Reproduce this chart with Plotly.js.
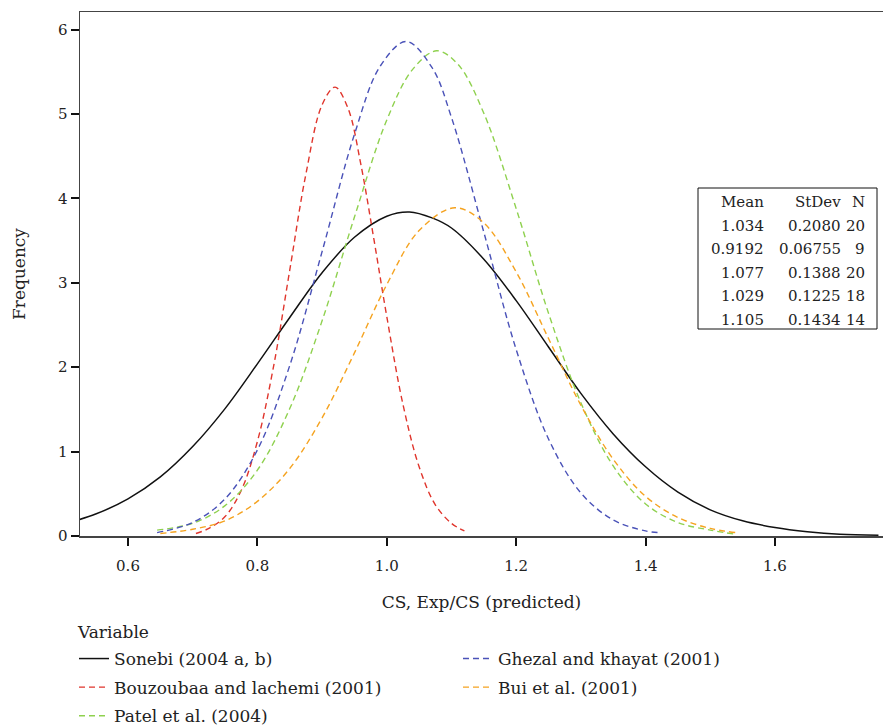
<!DOCTYPE html>
<html>
<head>
<meta charset="utf-8">
<script src="https://cdn.plot.ly/plotly-3.0.1.min.js"></script>
<style>html,body{margin:0;padding:0;background:#fff;overflow:hidden;} #chart{width:883px;height:750px;}</style>
</head>
<body>
<div id="chart"></div>
<script>
// Series names
const seriesNames = ["Sonebi (2004 a, b)", "Bouzoubaa and lachemi (2001)", "Patel et al. (2004)", "Ghezal and khayat (2001)", "Bui et al. (2001)"];
const legendTitle = "Variable";

// Sonebi (2004 a, b)
const sonebiX = [0.50,0.55,0.60,0.65,0.70,0.75,0.80,0.85,0.90,0.95,1.00,1.035,1.07,1.10,1.15,1.20,1.25,1.30,1.35,1.40,1.45,1.50,1.55,1.60,1.65,1.70,1.76];
const sonebiY = [0.14,0.26,0.44,0.70,1.06,1.51,2.04,2.59,3.12,3.54,3.79,3.84,3.77,3.65,3.28,2.79,2.24,1.69,1.21,0.82,0.52,0.31,0.18,0.10,0.05,0.02,0.01];

// Bouzoubaa and lachemi (2001)
const bouzX = [0.705,0.725,0.75,0.775,0.80,0.825,0.85,0.875,0.90,0.92,0.94,0.96,0.98,1.00,1.025,1.05,1.075,1.10,1.12];
const bouzY = [0.03,0.09,0.23,0.54,1.12,2.01,3.15,4.29,5.11,5.32,5.07,4.40,3.52,2.60,1.56,0.82,0.37,0.15,0.06];

// Patel et al. (2004)
const patelX = [0.645,0.70,0.75,0.80,0.85,0.90,0.95,1.00,1.04,1.077,1.11,1.15,1.20,1.25,1.30,1.35,1.40,1.45,1.50,1.54];
const patelY = [0.07,0.15,0.36,0.78,1.51,2.55,3.78,4.93,5.53,5.75,5.59,5.01,3.88,2.64,1.58,0.83,0.38,0.16,0.07,0.02];

// Ghezal and khayat (2001)
const ghezX = [0.645,0.70,0.75,0.80,0.85,0.90,0.95,0.99,1.03,1.07,1.10,1.15,1.20,1.25,1.30,1.35,1.40,1.42];
const ghezY = [0.04,0.16,0.44,1.02,2.02,3.37,4.76,5.57,5.86,5.55,4.96,3.60,2.21,1.15,0.51,0.19,0.06,0.04];

// Bui et al. (2001)
const buiX = [0.65,0.70,0.75,0.80,0.85,0.90,0.95,1.00,1.05,1.105,1.15,1.20,1.25,1.30,1.35,1.40,1.45,1.50,1.54];
const buiY = [0.03,0.08,0.18,0.41,0.80,1.40,2.17,2.98,3.62,3.89,3.71,3.13,2.34,1.55,0.91,0.47,0.22,0.09,0.04];

// Summary table
const tableHeader = ["Mean", "StDev", "N"];
const tableMean = ["1.034", "0.9192", "1.077", "1.029", "1.105"];
const tableStDev = ["0.2080", "0.06755", "0.1388", "0.1225", "0.1434"];
const tableN = ["20", "9", "20", "18", "14"];

const xTickVals = [0.6, 0.8, 1.0, 1.2, 1.4, 1.6];
const xTickText = ["0.6", "0.8", "1.0", "1.2", "1.4", "1.6"];
const yTickVals = [0, 1, 2, 3, 4, 5, 6];

const FONT = "DejaVu Serif, serif";
const TXT = "#222";

function tr(x, y, name, color, dash, legendId, group) {
  return {x: x, y: y, name: name, type: "scatter", mode: "lines",
    legend: legendId, legendgroup: group,
    line: {color: color, width: dash ? 1.4 : 1.5, dash: dash || "solid", shape: "spline", smoothing: 1},
    hoverinfo: "x+y+name"};
}

const data = [
  tr(sonebiX, sonebiY, seriesNames[0], "#111111", null, "legend", "g1"),
  tr(bouzX, bouzY, seriesNames[1], "#e0352c", "6px,4px", "legend", "g2"),
  tr(patelX, patelY, seriesNames[2], "#8fd14f", "6px,4px", "legend", "g3"),
  tr(ghezX, ghezY, seriesNames[3], "#4a52b8", "6px,4px", "legend2", "g4"),
  tr(buiX, buiY, seriesNames[4], "#f5a320", "6px,4px", "legend2", "g5")
];

const H = 750;
const plotL = 80, plotT = 12, plotW = 803, plotH = 524;
function px2x(p){ return (p - plotL) / plotW; }
function py2y(p){ return 1 - (p - plotT) / plotH; }

const annotations = [];
const rows = [tableHeader].concat(tableMean.map((m, i) => [m, tableStDev[i], tableN[i]]));
const rowY0 = 202, rowStep = 23.6;
const colX = [766, 843, 867];
rows.forEach((r, i) => {
  const yy = py2y(rowY0 + i * rowStep);
  r.forEach((cell, j) => {
    annotations.push({xref: "paper", yref: "paper", x: px2x(colX[j]), y: yy, xanchor: "right", yanchor: "middle",
      text: cell, showarrow: false, font: {family: FONT, size: 15, color: TXT}});
  });
});
annotations.push({xref: "paper", yref: "paper", x: px2x(75), y: py2y(632), xanchor: "left", yanchor: "middle",
  text: legendTitle, showarrow: false, font: {family: FONT, size: 17, color: TXT}});

const shapes = [{type: "rect", xref: "paper", yref: "paper",
  x0: px2x(698), x1: px2x(877), y0: py2y(329), y1: py2y(188),
  line: {color: "#111", width: 1}, fillcolor: "rgba(0,0,0,0)"}];

const legendBase = {orientation: "v", xanchor: "left", yanchor: "top",
  font: {family: FONT, size: 17, color: TXT}, traceorder: "grouped", tracegroupgap: 3.5,
  bgcolor: "rgba(0,0,0,0)"};

const layout = {
  width: 883, height: H,
  margin: {l: plotL, r: 0, t: plotT, b: H - plotT - plotH},
  paper_bgcolor: "#fff", plot_bgcolor: "#fff",
  font: {family: FONT, size: 15, color: TXT},
  showlegend: true,
  xaxis: {range: [0.5258, 1.767], tickvals: xTickVals, ticktext: xTickText,
    showgrid: false, zeroline: false, showline: true, mirror: true, linecolor: "#444", linewidth: 1.5,
    ticks: "outside", ticklen: 8, tickwidth: 2, tickcolor: "#111", ticklabelstandoff: 7,
    tickfont: {family: FONT, size: 15, color: TXT},
    title: {text: "CS, Exp/CS (predicted)", font: {family: FONT, size: 17, color: TXT}, standoff: 22},
    automargin: false, fixedrange: true},
  yaxis: {range: [0, 6.21], tickvals: yTickVals,
    showgrid: false, zeroline: false, showline: true, mirror: false, linecolor: "#444", linewidth: 1.5,
    ticks: "outside", ticklen: 8, tickwidth: 2, tickcolor: "#111",
    tickfont: {family: FONT, size: 15, color: TXT},
    title: {text: "Frequency", font: {family: FONT, size: 17, color: TXT}, standoff: 28},
    automargin: false, fixedrange: true},
  legend: Object.assign({}, legendBase, {x: px2x(74), y: py2y(641)}),
  legend2: Object.assign({}, legendBase, {x: px2x(458), y: py2y(641)}),
  annotations: annotations,
  shapes: shapes
};

Plotly.newPlot("chart", data, layout, {displayModeBar: false, staticPlot: true});
</script>
</body>
</html>
